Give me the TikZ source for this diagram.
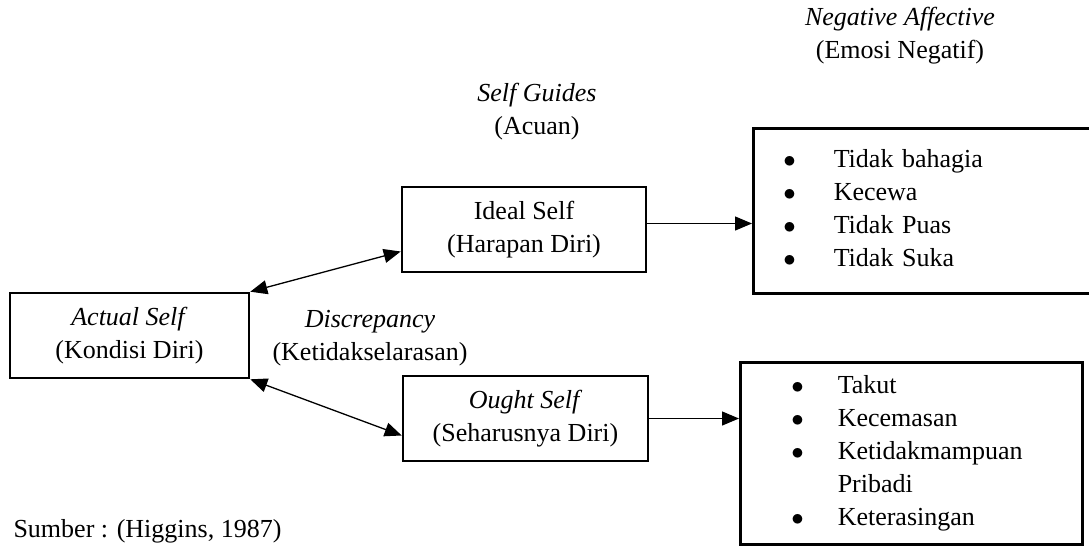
\documentclass[tikz,border=0pt]{standalone}
\usepackage{fontspec}
\setmainfont{Liberation Serif}
\usetikzlibrary{positioning,arrows.meta}

\begin{document}
\begin{tikzpicture} [
		x=1pt, y=-1pt,
		every node/.style={font=\fontsize{26}{33}\selectfont},
		self/.style    = { rectangle, draw, line width=2.6pt, 
			align=center, minimum height=85pt },
		affect/.style  = { rectangle, draw, line width=2.6pt, 
			anchor=north west, align=left },
		note/.style    = { align=center },
		line/.style    = { draw, line width=1.3pt, -{Triangle[length=17pt,width=14pt]} },
		both/.style    = { line, {Triangle[length=17pt,width=14pt]}-{Triangle[length=17pt,width=14pt]} },
		]
		\useasboundingbox (0,0) rectangle (1089,555);
		% the three selves
		\node [self, minimum width=239pt] (actual) at (129.5,335.5) {\textit{Actual Self}\\(Kondisi Diri)};
		\node [self, minimum width=244pt] (ideal) at (524,229.5) {Ideal Self\\(Harapan Diri)};
		\node [self, minimum width=245pt] (ought) at (525.5,418.5) {\textit{Ought Self}\\(Seharusnya Diri)};
		% emotion boxes
		\node [affect, inner xsep=30pt, text width=290pt, minimum height=165pt] (neg) at (752,127) {%
			\begin{tabular}{@{}l@{\hspace{38pt}}l@{}}
				$\bullet$ & Tidak bahagia\\
				$\bullet$ & Kecewa\\
				$\bullet$ & Tidak Puas\\
				$\bullet$ & Tidak Suka
			\end{tabular}};
		\node [affect, inner xsep=51pt, text width=240pt, minimum height=182pt] (fear) at (739,361) {%
			\begin{tabular}{@{}l@{\hspace{34pt}}l@{}}
				$\bullet$ & Takut\\
				$\bullet$ & Kecemasan\\
				$\bullet$ & Ketidakmampuan\\
				          & Pribadi\\
				$\bullet$ & Keterasingan
			\end{tabular}};
		% headings
		\node [note] (guides) at (537,112) {\textit{Self Guides}\\(Acuan)};
		\node [note] (negaff) at (900,36) {\textit{Negative Affective}\\(Emosi Negatif)};
		\node [note] (discr) at (370,338) {\textit{Discrepancy}\\(Ketidakselarasan)};
		\node [anchor=base west] (source) at (10,537) {Sumber : (Higgins, 1987)};
		% connect all nodes defined above
		\begin{scope}
		\path [both] (actual.north east) -- ([yshift=-22pt] ideal.west);
		\path [both] (actual.south east) -- ([yshift=-17pt] ought.west);
		\path [line] ([yshift=6pt] ideal.east) -- ([yshift=6pt] ideal.east -| neg.west);
		\path [line] (ought.east) -- (ought.east -| fear.west);
		\end{scope}
\end{tikzpicture}
\end{document}
